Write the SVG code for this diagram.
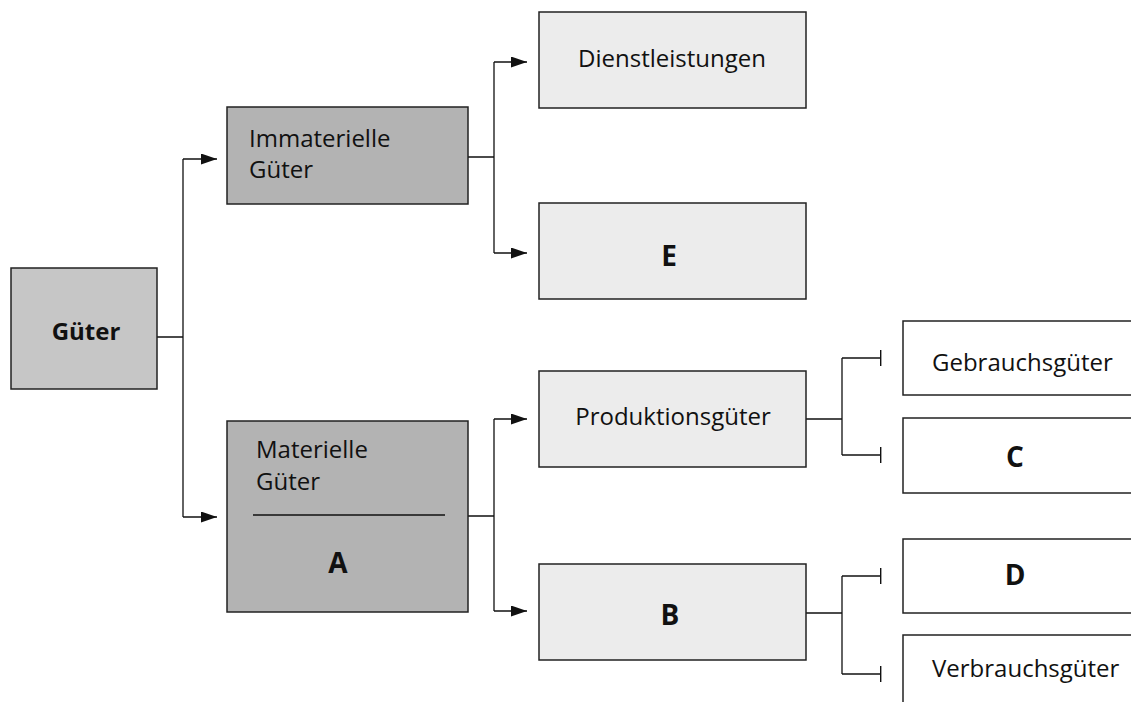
<svg xmlns="http://www.w3.org/2000/svg" width="1131" height="702" viewBox="0 0 1131 702">
<defs>
<style>
.box{stroke:#222;stroke-width:1.5}
.t{font-family:"Open Sans","Liberation Sans",sans-serif;font-size:24px;fill:#111}
.b{font-weight:bold}
.L{font-size:28px}
.c{fill:none;stroke:#111;stroke-width:1.3}
</style>
<marker id="arr" viewBox="0 0 16 11" refX="16" refY="5.5" markerWidth="16" markerHeight="11" markerUnits="userSpaceOnUse" orient="auto">
<path d="M0,0 L16,5.5 L0,11 Z" fill="#111"/>
</marker>
<marker id="tee" viewBox="0 0 2 16" refX="1" refY="8" markerWidth="2" markerHeight="16" markerUnits="userSpaceOnUse" orient="auto">
<rect x="0" y="0" width="1.4" height="16" fill="#111"/>
</marker>
</defs>
<rect width="1131" height="702" fill="#fff"/>
<g id="connectors">
<path class="c" d="M157,337 H183 M183,159 V517"/>
<path class="c" d="M183,159 H217" marker-end="url(#arr)"/>
<path class="c" d="M183,517 H217" marker-end="url(#arr)"/>
<path class="c" d="M468,157 H494 M494,62 V253"/>
<path class="c" d="M494,62 H527" marker-end="url(#arr)"/>
<path class="c" d="M494,253 H527" marker-end="url(#arr)"/>
<path class="c" d="M468,516 H494 M494,419 V611"/>
<path class="c" d="M494,419 H527" marker-end="url(#arr)"/>
<path class="c" d="M494,611 H527" marker-end="url(#arr)"/>
<path class="c" d="M806,419 H842 M842,358 V455"/>
<path class="c" d="M842,358 H881" marker-end="url(#tee)"/>
<path class="c" d="M842,455 H881" marker-end="url(#tee)"/>
<path class="c" d="M806,613 H842 M842,576 V674"/>
<path class="c" d="M842,576 H881" marker-end="url(#tee)"/>
<path class="c" d="M842,674 H881" marker-end="url(#tee)"/>
</g>
<g id="gueter">
<rect class="box" x="11" y="268" width="146" height="121" fill="#c6c6c6"/>
<text class="t b" x="86" y="340" text-anchor="middle">Güter</text>
</g>
<g id="immaterielle">
<rect class="box" x="227" y="107" width="241" height="97" fill="#b3b3b3"/>
<text class="t" x="249" y="147">Immaterielle</text>
<text class="t" x="249" y="178">Güter</text>
</g>
<g id="materielle">
<rect class="box" x="227" y="421" width="241" height="191" fill="#b3b3b3"/>
<text class="t" x="256" y="458">Materielle</text>
<text class="t" x="256" y="490">Güter</text>
<line x1="253" y1="515" x2="445" y2="515" stroke="#111" stroke-width="1.3"/>
<text class="t b L" x="338" y="573" text-anchor="middle">A</text>
</g>
<g id="dienstleistungen">
<rect class="box" x="539" y="12" width="267" height="96" fill="#ececec"/>
<text class="t" x="672" y="67" text-anchor="middle">Dienstleistungen</text>
</g>
<g id="e">
<rect class="box" x="539" y="203" width="267" height="96" fill="#ececec"/>
<text class="t b L" x="669" y="266" text-anchor="middle">E</text>
</g>
<g id="produktionsgueter">
<rect class="box" x="539" y="371" width="267" height="96" fill="#ececec"/>
<text class="t" x="673" y="425" text-anchor="middle">Produktionsgüter</text>
</g>
<g id="b">
<rect class="box" x="539" y="564" width="267" height="96" fill="#ececec"/>
<text class="t b L" x="670" y="625" text-anchor="middle">B</text>
</g>
<g id="gebrauchsgueter">
<rect class="box" x="903" y="321" width="240" height="74" fill="#fff"/>
<text class="t" x="932" y="371">Gebrauchsgüter</text>
</g>
<g id="c">
<rect class="box" x="903" y="418" width="240" height="75" fill="#fff"/>
<text class="t b L" x="1015" y="467" text-anchor="middle">C</text>
</g>
<g id="d">
<rect class="box" x="903" y="539" width="240" height="74" fill="#fff"/>
<text class="t b L" x="1015" y="585" text-anchor="middle">D</text>
</g>
<g id="verbrauchsgueter">
<rect class="box" x="903" y="635" width="240" height="80" fill="#fff"/>
<text class="t" x="932" y="677">Verbrauchsgüter</text>
</g>
</svg>
